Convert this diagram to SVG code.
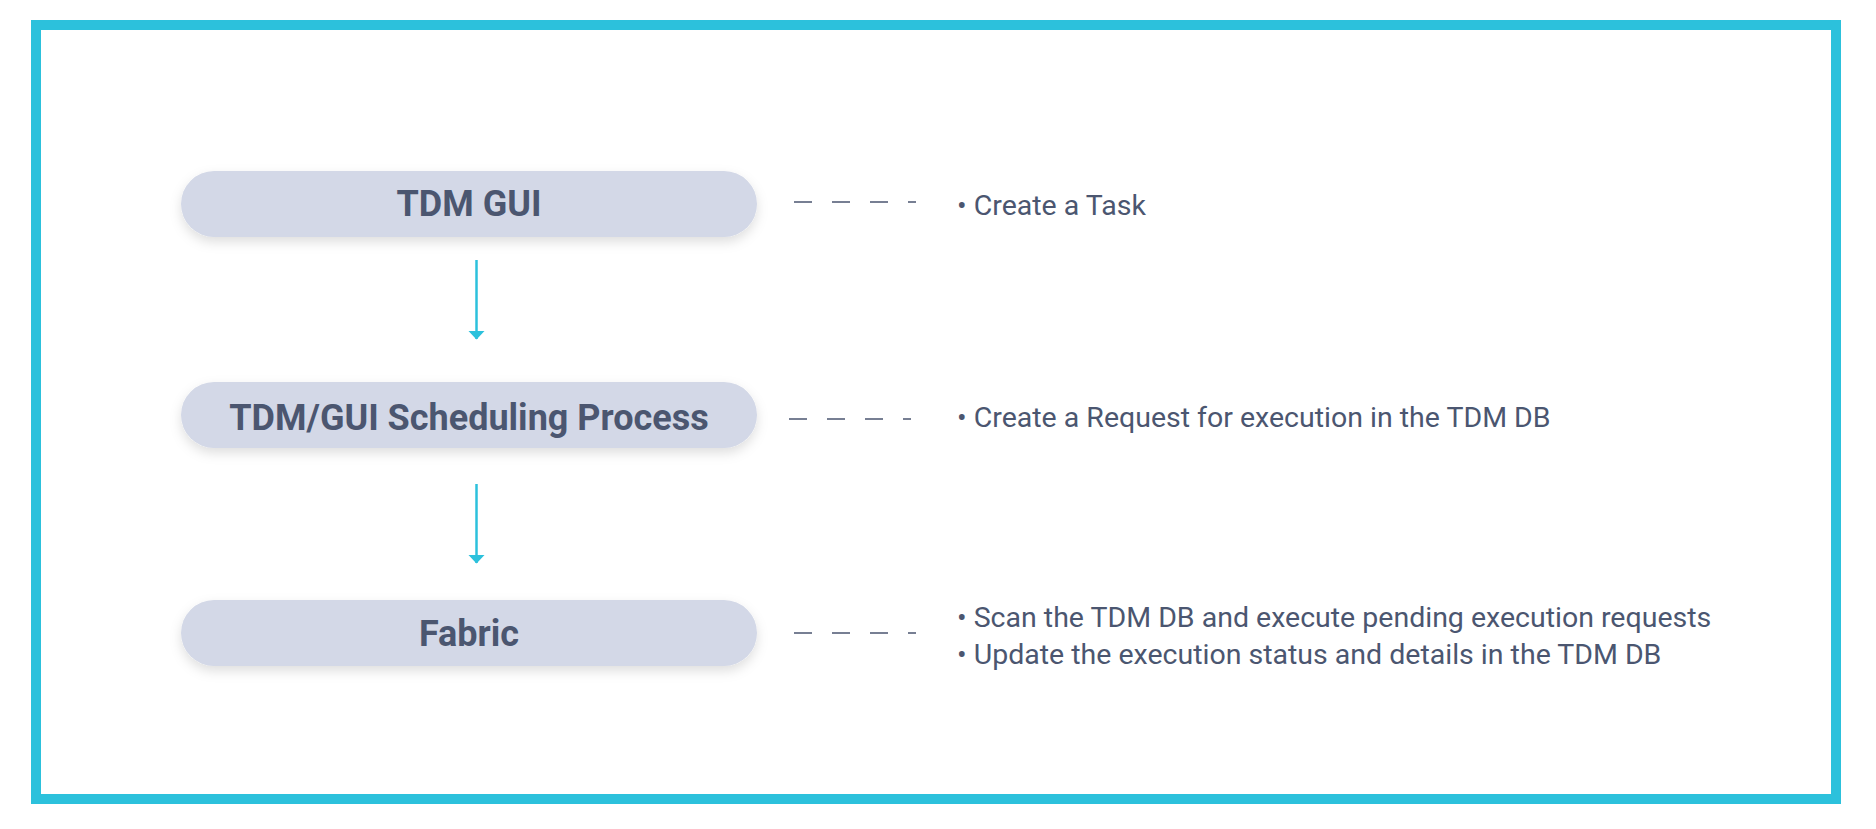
<svg xmlns="http://www.w3.org/2000/svg" width="1876" height="829" viewBox="0 0 1876 829">
  <defs>
    <filter id="shadow" x="-10%" y="-40%" width="120%" height="190%">
      <feDropShadow dx="0" dy="5" stdDeviation="6" flood-color="#000000" flood-opacity="0.13"/>
    </filter>
    <marker id="arrow" viewBox="0 0 9 17" refX="8.5" refY="8.5" markerWidth="9" markerHeight="17" markerUnits="userSpaceOnUse" orient="auto">
      <path d="M0,0 L9,8.5 L0,17 Z" fill="#2cc1dc"/>
    </marker>
  </defs>
  <style>
    .node rect { fill: #d3d8e7; filter: url(#shadow); }
    .node text { font-family: Roboto, "Liberation Sans", sans-serif; font-weight: bold; font-size: 36px; fill: #4b5670; text-anchor: middle; }
    .desc { font-family: Roboto, "Liberation Sans", sans-serif; font-size: 28.5px; fill: #4b5670; }
    .dash { stroke: #4b5670; stroke-width: 1.5; stroke-dasharray: 18 20; fill: none; }
    .flow { stroke: #2cc1dc; stroke-width: 2.5; fill: none; marker-end: url(#arrow); }
  </style>
  <rect x="0" y="0" width="1876" height="829" fill="#ffffff"/>
  <rect x="36" y="25" width="1800" height="774" fill="none" stroke="#2cc1dc" stroke-width="10"/>

  <g id="node-tdm-gui" class="node">
    <rect x="181" y="171" width="576" height="66" rx="33" ry="33"/>
    <text x="469" y="216">TDM GUI</text>
  </g>
  <g id="node-scheduling" class="node">
    <rect x="181" y="382" width="576" height="66" rx="33" ry="33"/>
    <text x="469" y="430">TDM/GUI Scheduling Process</text>
  </g>
  <g id="node-fabric" class="node">
    <rect x="181" y="600" width="576" height="66" rx="33" ry="33"/>
    <text x="469" y="646">Fabric</text>
  </g>

  <g id="connectors">
    <line class="flow" x1="476.5" y1="260" x2="476.5" y2="339"/>
    <line class="flow" x1="476.5" y1="484" x2="476.5" y2="563"/>
    <line class="dash" x1="794" y1="202" x2="916" y2="202"/>
    <line class="dash" x1="789" y1="419" x2="911" y2="419"/>
    <line class="dash" x1="794" y1="633" x2="916" y2="633"/>
  </g>

  <g id="descriptions">
    <text class="desc" x="957" y="215">• Create a Task</text>
    <text class="desc" x="957" y="427">• Create a Request for execution in the TDM DB</text>
    <text class="desc" x="957" y="627">• Scan the TDM DB and execute pending execution requests</text>
    <text class="desc" x="957" y="664">• Update the execution status and details in the TDM DB</text>
  </g>
</svg>
